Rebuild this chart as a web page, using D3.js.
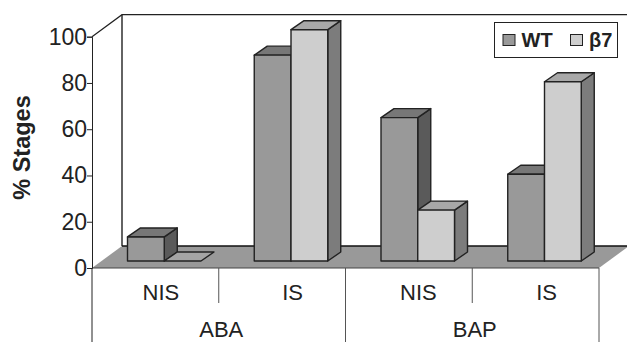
<!DOCTYPE html>
<html>
<head>
<meta charset="utf-8">
<script src="https://cdn.jsdelivr.net/npm/d3@7"></script>
<style>
  html, body { margin: 0; padding: 0; background: #fff; }
  svg { display: block; }
  text { font-family: "Liberation Sans", Arial, sans-serif; fill: #222; }
</style>
</head>
<body>
<svg id="chart" width="627" height="342"></svg>
<script>
const categories = ['NIS', 'IS', 'NIS', 'IS'];
const groups = ['ABA', 'BAP'];
const seriesNames = ['WT', 'β7'];
const wtValues = [10.4, 89, 62, 37.5];
const b7Values = [0, 100, 22, 77.5];
const yTicks = [0, 20, 40, 60, 80, 100];

const width = 627;
const height = 342;
const left = 92;
const right = 599;
const y0 = 268;
const y100 = 36.7;
const wall = {dx: 30, dy: -22};
const bar = {dx: 13, dy: -9, lift: 7};

const colors = {
  WT: {front: '#999999', top: '#777777', side: '#5a5a5a'},
  'β7': {front: '#cecece', top: '#a8a8a8', side: '#7c7c7c'},
};

const svg = d3.select('#chart');

const y = d3.scaleLinear().domain([0, 100]).range([y0, y100]);
const x = d3.scaleBand().domain(d3.range(categories.length)).range([left, right]);
const xGroup = d3.scaleBand().domain(groups).range([left, right]);
const xSeries = d3.scaleBand().domain(seriesNames).range([35.5, 109]);

function poly(pts) {
  return d3.line()(pts) + 'Z';
}

// walls and floor
svg.append('path')
    .attr('d', d3.line()([
      [left, y(100)],
      [left + wall.dx, y(100) + wall.dy],
      [width, y(100) + wall.dy],
    ]))
    .attr('fill', 'none')
    .attr('stroke', '#222')
    .attr('stroke-width', 1.2);

svg.append('line')
    .attr('x1', left + wall.dx)
    .attr('x2', left + wall.dx)
    .attr('y1', y(100) + wall.dy)
    .attr('y2', y0 + wall.dy)
    .attr('stroke', '#222')
    .attr('stroke-width', 1.4);

svg.append('path')
    .attr('d', poly([
      [left, y0],
      [left + wall.dx, y0 + wall.dy],
      [right + wall.dx, y0 + wall.dy],
      [right, y0],
    ]))
    .attr('fill', '#999999');

svg.append('line')
    .attr('x1', left + wall.dx)
    .attr('x2', right + wall.dx)
    .attr('y1', y0 + wall.dy)
    .attr('y2', y0 + wall.dy)
    .attr('stroke', '#111')
    .attr('stroke-width', 1.6);

svg.append('line')
    .attr('x1', left)
    .attr('x2', right)
    .attr('y1', y0)
    .attr('y2', y0)
    .attr('stroke', '#444')
    .attr('stroke-width', 1);

// bars
const barData = [];
categories.forEach(function(c, i) {
  barData.push({i: i, s: 'WT', v: wtValues[i]});
  barData.push({i: i, s: 'β7', v: b7Values[i]});
});

const g = svg.selectAll('g.bar').data(barData).enter()
  .append('g')
    .attr('class', 'bar')
    .attr('fill', function(d) {
      return colors[d.s].front;
    })
    .attr('stroke', '#222')
    .attr('stroke-width', 1.4)
    .attr('stroke-linejoin', 'round');

function corners(d) {
  const x1 = x(d.i) + xSeries(d.s);
  return {
    x1: x1,
    x2: x1 + xSeries.bandwidth(),
    top: y(d.v) - bar.lift,
    base: y0 - bar.lift,
  };
}

g.append('path')
    .attr('d', function(d) {
      const c = corners(d);
      return poly([[c.x2, c.top], [c.x2 + bar.dx, c.top + bar.dy],
        [c.x2 + bar.dx, c.base + bar.dy], [c.x2, c.base]]);
    })
    .attr('fill', function(d) {
      return d.v > 0 ? colors[d.s].side : 'none';
    })
    .attr('stroke-width', function(d) {
      return d.v > 0 ? 1.4 : 0;
    });

g.append('path')
    .attr('d', function(d) {
      const c = corners(d);
      return poly([[c.x1, c.top], [c.x1 + bar.dx, c.top + bar.dy],
        [c.x2 + bar.dx, c.top + bar.dy], [c.x2, c.top]]);
    })
    .attr('fill', function(d) {
      return d.v > 0 ? colors[d.s].top : '#a4a4a4';
    });

g.append('rect')
    .attr('x', function(d) {
      return corners(d).x1;
    })
    .attr('y', function(d) {
      return corners(d).top;
    })
    .attr('width', xSeries.bandwidth())
    .attr('height', function(d) {
      const c = corners(d);
      return c.base - c.top;
    });

// y axis
const yAxis = svg.append('g')
    .attr('transform', 'translate(' + left + ',0)')
    .call(d3.axisLeft(y).tickValues(yTicks).tickSize(5).tickPadding(0));
yAxis.select('.domain').attr('stroke', '#222').attr('stroke-width', 1);
yAxis.selectAll('.tick line').attr('stroke', '#222');
yAxis.selectAll('.tick text')
    .attr('font-size', 23)
    .style('font-family', '"Liberation Sans", Arial, sans-serif')
    .attr('fill', '#222');

svg.append('text')
    .attr('transform', 'translate(30,147.5) rotate(-90)')
    .attr('text-anchor', 'middle')
    .attr('font-size', 23.5)
    .attr('font-weight', 'bold')
    .text('% Stages');

// category separators and labels
d3.range(categories.length + 1).forEach(function(i) {
  const px = i < categories.length ? x(i) : right;
  svg.append('line')
      .attr('x1', px)
      .attr('x2', px)
      .attr('y1', y0)
      .attr('y2', i % 2 === 0 ? height : 303)
      .attr('stroke', i === 0 ? '#222' : '#555')
      .attr('stroke-width', 1);
});

// labels sit a little right of the band centre, as in the 3D plane
const labelShift = [5.5, 10.5, 9.5, 11];

svg.selectAll('text.cat').data(categories).enter()
  .append('text')
    .attr('class', 'cat')
    .attr('x', function(d, i) {
      return x(i) + x.bandwidth() / 2 + labelShift[i];
    })
    .attr('y', 300)
    .attr('text-anchor', 'middle')
    .attr('font-size', 22)
    .text(function(d) {
      return d;
    });

svg.selectAll('text.group').data(groups).enter()
  .append('text')
    .attr('class', 'group')
    .attr('x', function(d) {
      return xGroup(d) + xGroup.bandwidth() / 2 + 2.5;
    })
    .attr('y', 337)
    .attr('text-anchor', 'middle')
    .attr('font-size', 22)
    .text(function(d) {
      return d;
    });

// legend
const legend = svg.append('g');
legend.append('rect')
    .attr('x', 494.5)
    .attr('y', 22.5)
    .attr('width', 123)
    .attr('height', 35)
    .attr('fill', '#fff')
    .attr('stroke', '#222')
    .attr('stroke-width', 1);

const legendX = d3.scaleOrdinal().domain(seriesNames).range([503, 570.5]);

const item = legend.selectAll('g').data(seriesNames).enter()
  .append('g')
    .attr('transform', function(d) {
      return 'translate(' + legendX(d) + ',0)';
    });

item.append('rect')
    .attr('y', 34.5)
    .attr('width', 12)
    .attr('height', 11)
    .attr('fill', function(d) {
      return colors[d].front;
    })
    .attr('stroke', '#222')
    .attr('stroke-width', 1);

item.append('text')
    .attr('x', 18.5)
    .attr('y', 47)
    .attr('font-size', 20)
    .attr('font-weight', 'bold')
    .text(function(d) {
      return d;
    });
</script>
</body>
</html>
